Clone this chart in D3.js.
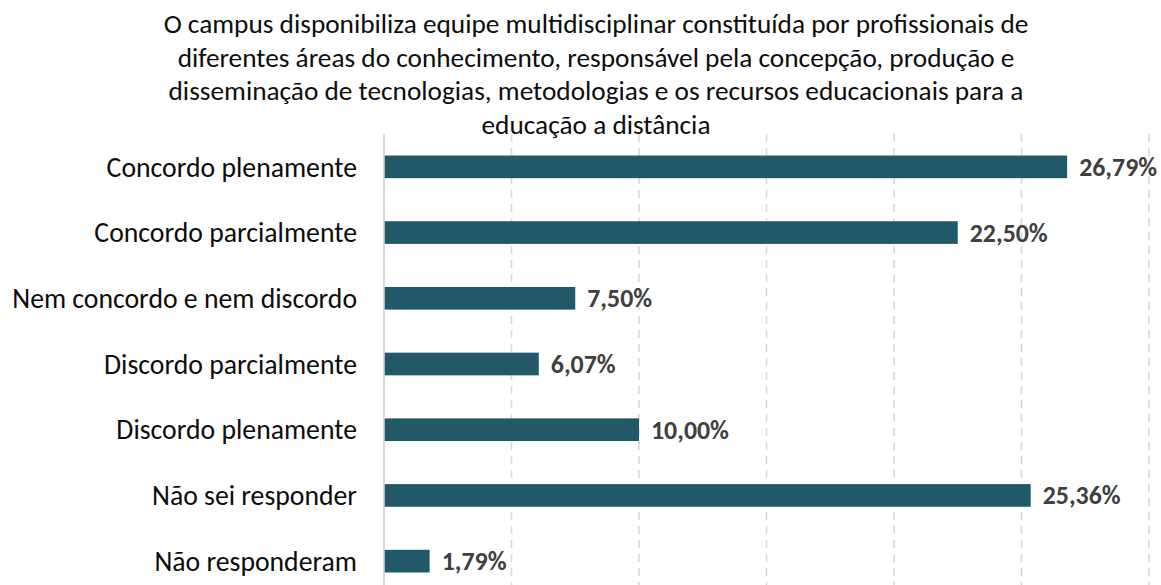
<!DOCTYPE html>
<html>
<head>
<meta charset="utf-8">
<script src="https://cdn.jsdelivr.net/npm/d3@7"></script>
<style>
  html, body { margin: 0; padding: 0; background: #ffffff; }
  svg { display: block; }
</style>
</head>
<body>
<div id="chart"></div>
<script>
// ---- data ----
const titleLines = [
  "O campus disponibiliza equipe multidisciplinar constituída por profissionais de",
  "diferentes áreas do conhecimento, responsável pela concepção, produção e",
  "disseminação de tecnologias, metodologias e os recursos educacionais para a",
  "educação a distância"
];
const categories = [
  "Concordo plenamente",
  "Concordo parcialmente",
  "Nem concordo e nem discordo",
  "Discordo parcialmente",
  "Discordo plenamente",
  "Não sei responder",
  "Não responderam"
];
const values = [26.79, 22.50, 7.50, 6.07, 10.00, 25.36, 1.79];
const xTicks = [0, 5, 10, 15, 20, 25, 30];

// ---- layout ----
const W = 1161, H = 585;
const FONT = "Carlito, Calibri, Lato, 'Open Sans', sans-serif";
const svg = d3.select("#chart").append("svg").attr("width", W).attr("height", H);

const x = d3.scaleLinear().domain([0, 30]).range([384, 1149]);
const y = d3.scaleBand().domain(categories).range([134, 594]).paddingInner(0.655).paddingOuter(0.3275);

// fit helper: size text so its width matches a target width
function fitSize(text, weight, target) {
  const t = svg.append("text").attr("font-family", FONT).attr("font-weight", weight)
    .attr("font-size", 20).text(text);
  const w = t.node().getComputedTextLength();
  t.remove();
  return 20 * target / w;
}
const titleFs = fitSize(titleLines[0], "normal", 865);
const catFs = fitSize(categories[2], "normal", 345);
const valFs = fitSize("26,79%", "bold", 78);

// gridlines
const grid = svg.append("g");
grid.selectAll("line").data(xTicks.filter(d => d > 0)).join("line")
  .attr("x1", d => x(d)).attr("x2", d => x(d))
  .attr("y1", 134).attr("y2", H)
  .attr("stroke", "#d9d9d9").attr("stroke-width", 1.6)
  .attr("stroke-dasharray", "8,6");

// bars
svg.append("g").selectAll("rect").data(values).join("rect")
  .attr("x", x(0))
  .attr("y", (d, i) => y(categories[i]))
  .attr("width", d => x(d) - x(0))
  .attr("height", y.bandwidth())
  .attr("fill", "#225968");

// y axis line
svg.append("line").attr("x1", x(0)).attr("x2", x(0)).attr("y1", 134).attr("y2", H)
  .attr("stroke", "#d0d0d0").attr("stroke-width", 1.6);

// category labels
svg.append("g").selectAll("text").data(categories).join("text")
  .attr("x", 357)
  .attr("y", d => y(d) + y.bandwidth() / 2 + catFs * 0.35)
  .attr("text-anchor", "end")
  .attr("font-family", FONT).attr("font-size", catFs)
  .attr("fill", "#0d0d0d")
  .text(d => d);

// value labels
svg.append("g").selectAll("text").data(values).join("text")
  .attr("x", d => x(d) + 12)
  .attr("y", (d, i) => y(categories[i]) + y.bandwidth() / 2 + valFs * 0.35)
  .attr("font-family", FONT).attr("font-size", valFs).attr("font-weight", "bold")
  .attr("fill", "#404040")
  .text(d => d.toFixed(2).replace(".", ",") + "%");

// title
svg.append("g").selectAll("text").data(titleLines).join("text")
  .attr("x", 596)
  .attr("y", (d, i) => 33 + i * 33.5)
  .attr("text-anchor", "middle")
  .attr("font-family", FONT).attr("font-size", titleFs)
  .attr("fill", "#0d0d0d")
  .text(d => d);
</script>
</body>
</html>
